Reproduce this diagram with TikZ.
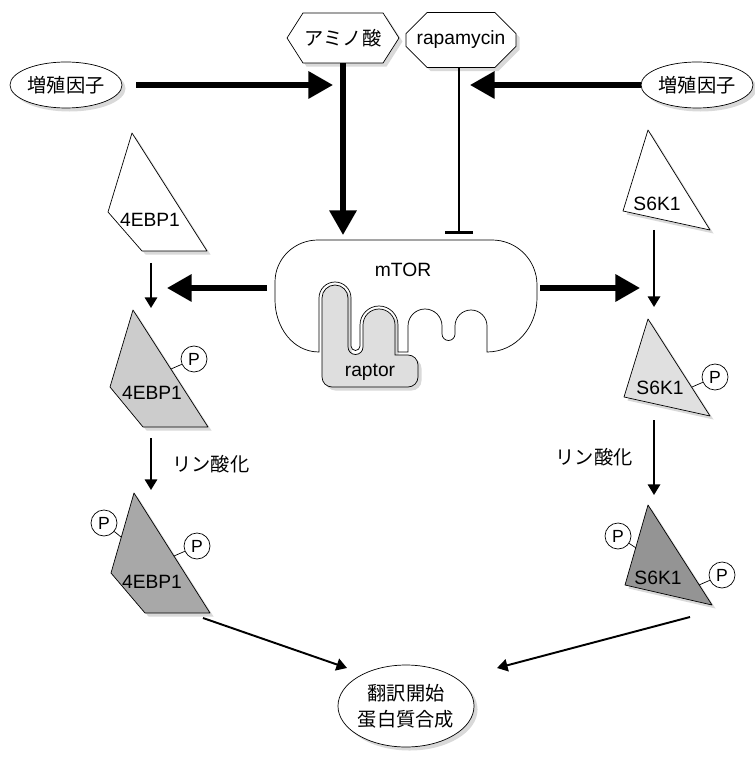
\documentclass[tikz,border=0pt,11pt]{standalone}
\usepackage{fontspec}
\setmainfont{Liberation Sans}
\newfontfamily\jp{Noto Sans CJK JP}
\usepackage{tikz}
\usetikzlibrary{shapes.geometric, shapes.misc, shapes.symbols, arrows.meta, shadows}
\definecolor{protA}{gray}{0.80}
\definecolor{protB}{gray}{0.66}
\definecolor{protC}{gray}{0.88}
\definecolor{protD}{gray}{0.58}
\definecolor{raptorgray}{gray}{0.87}
\tikzstyle{dshadow} = [drop shadow={shadow xshift=2pt, shadow yshift=-2pt, fill=gray!55, opacity=0.55}]
\tikzstyle{factor} = [draw, ellipse, fill=white, minimum width=2.24cm, minimum height=0.92cm, inner sep=0pt, font=\jp, dshadow]
\tikzstyle{phos} = [draw, circle, fill=white, minimum size=0.52cm, inner sep=0pt, font=\small]

\begin{document}
\begin{tikzpicture}[x=0.02cm, y=0.02cm]
        \useasboundingbox (0,0) rectangle (754,-759);
        % スタイル
        \tikzstyle{hexa} = [draw, signal, signal to=west and east, signal pointer angle=115, fill=white, minimum width=1.74cm, minimum height=1.0cm, inner sep=1pt, font=\jp, dshadow]
        \tikzstyle{octa} = [draw, chamfered rectangle, chamfered rectangle xsep=5pt, chamfered rectangle ysep=7pt, fill=white, minimum width=2.2cm, minimum height=1.1cm, inner sep=1pt, dshadow]
        \tikzstyle{protein} = [draw, line join=round, dshadow]
        \tikzstyle{bigarrow} = [line width=3pt, -{Triangle[length=14pt, width=15pt]}]
        \tikzstyle{thinarrow} = [line width=1.1pt, -{Triangle[length=6pt, width=7pt]}]
        \tikzstyle{inhibit} = [line width=1.3pt, -{Bar[width=16pt, line width=1.8pt]}]

        % 上段
        \node [factor] (gfL) at (66,-85) {増殖因子};
        \node [factor] (gfR) at (697,-85) {増殖因子};
        \node [hexa] (amino) at (343,-38) {アミノ酸};
        \node [octa] (rapa) at (461,-40) {rapamycin};

        % mTOR と raptor
        \draw [fill=raptorgray, dshadow] (322,-377) -- (322,-298) arc[start angle=180, end angle=0, radius=13]
            -- (348,-347) arc[start angle=180, end angle=360, radius=7.5]
            -- (363,-325) arc[start angle=180, end angle=0, radius=16]
            -- (395,-355) -- (408,-355) arc[start angle=90, end angle=0, radius=10]
            -- (418,-377) arc[start angle=0, end angle=-90, radius=10]
            -- (332,-387) arc[start angle=-90, end angle=-180, radius=10] -- cycle;
        \draw [fill=white] (319,-352) to[out=180, in=-90] (275,-300) -- (275,-282) to[out=90, in=180] (318,-240)
            -- (492,-240) to[out=0, in=90] (537,-285) -- (537,-298) to[out=-90, in=0] (487,-352)
            -- (487,-326) arc[start angle=0, end angle=180, radius=16]
            -- (455,-334) arc[start angle=0, end angle=-180, radius=6.5]
            -- (442,-326) arc[start angle=0, end angle=180, radius=17]
            -- (408,-352) -- (398,-352) -- (398,-325) arc[start angle=0, end angle=180, radius=19]
            -- (360,-346) arc[start angle=0, end angle=-180, radius=4.5]
            -- (351,-298) arc[start angle=0, end angle=180, radius=16] -- cycle;
        \node (mtor) at (403,-270) {mTOR};
        \node (raptor) at (370,-372) {raptor};

        % 4EBP1
        \draw [protein, fill=white] (132,-133) -- (207,-251) -- (142,-251) -- (108,-212) -- cycle;
        \node (ebpA) at (150,-220) {4EBP1};
        \draw [protein, fill=protA] (133,-310) -- (208,-427) -- (143,-427) -- (110,-387) -- cycle;
        \node (ebpB) at (152,-393) {4EBP1};
        \node [phos] (pB) at (194,-359) {P};
        \draw (pB) -- (171,-369);
        \draw [protein, fill=protB] (134,-493) -- (210,-613) -- (145,-613) -- (111,-573) -- cycle;
        \node (ebpC) at (152,-582) {4EBP1};
        \node [phos] (pC1) at (104,-523) {P};
        \node [phos] (pC2) at (197,-546) {P};
        \draw (pC1) -- (121,-537);
        \draw (pC2) -- (174,-556);

        % S6K1
        \draw [protein, fill=white] (648,-130) -- (710,-230) -- (623,-211) -- cycle;
        \node (skA) at (657,-204) {S6K1};
        \draw [protein, fill=protC] (648,-319) -- (710,-416) -- (624,-397) -- cycle;
        \node (skB) at (660,-388) {S6K1};
        \node [phos] (qB) at (715,-377) {P};
        \draw (qB) -- (692,-387);
        \draw [protein, fill=protD] (648,-505) -- (712,-605) -- (625,-585) -- cycle;
        \node (skC) at (658,-578) {S6K1};
        \node [phos] (qC1) at (618,-536) {P};
        \node [phos] (qC2) at (722,-575) {P};
        \draw (qC1) -- (636,-548);
        \draw (qC2) -- (699,-585);

        % 下段
        \node [draw, ellipse, fill=white, minimum width=2.64cm, minimum height=1.64cm, inner sep=0pt, align=center, font=\jp, dshadow] (trans) at (406,-706) {翻訳開始\\[1pt]蛋白質合成};

        % 矢印の端点
        \coordinate (aminoIn) at (333,-85);
        \coordinate (rapaIn) at (470,-85);
        \coordinate (mtorTop) at (343,-235);
        \coordinate (mtorBar) at (459,-234);
        \coordinate (mtorL) at (267,-288);
        \coordinate (mtorR) at (540,-288);
        \coordinate (leftIn) at (167,-288);
        \coordinate (rightIn) at (640,-288);
        \coordinate (ebpAout) at (151,-263);
        \coordinate (ebpBin) at (151,-308);
        \coordinate (ebpBout) at (151,-438);
        \coordinate (ebpCin) at (151,-490);
        \coordinate (ebpCout) at (203,-618);
        \coordinate (skAout) at (654,-230);
        \coordinate (skBin) at (654,-307);
        \coordinate (skBout) at (654,-420);
        \coordinate (skCin) at (654,-495);
        \coordinate (skCout) at (690,-617);
        \coordinate (transL) at (347,-668);
        \coordinate (transR) at (497,-668);

        % 矢印
        \draw [bigarrow, shorten <=8pt] (gfL.east) -- (aminoIn);
        \draw [bigarrow] (gfR.west) -- (rapaIn);
        \draw [bigarrow] (amino.south) -- (mtorTop);
        \draw [inhibit] (rapa.south -| mtorBar) -- (mtorBar);
        \draw [bigarrow] (mtorL) -- (leftIn);
        \draw [bigarrow] (mtorR) -- (rightIn);
        \draw [thinarrow] (ebpAout) -- (ebpBin);
        \draw [thinarrow] (ebpBout) -- node [right=8pt, font=\jp] {リン酸化} (ebpCin);
        \draw [thinarrow] (skAout) -- (skBin);
        \draw [thinarrow] (skBout) -- node [left=8pt, font=\jp] {リン酸化} (skCin);
        \draw [thinarrow] (ebpCout) -- (transL);
        \draw [thinarrow] (skCout) -- (transR);
    \end{tikzpicture}
\end{document}
